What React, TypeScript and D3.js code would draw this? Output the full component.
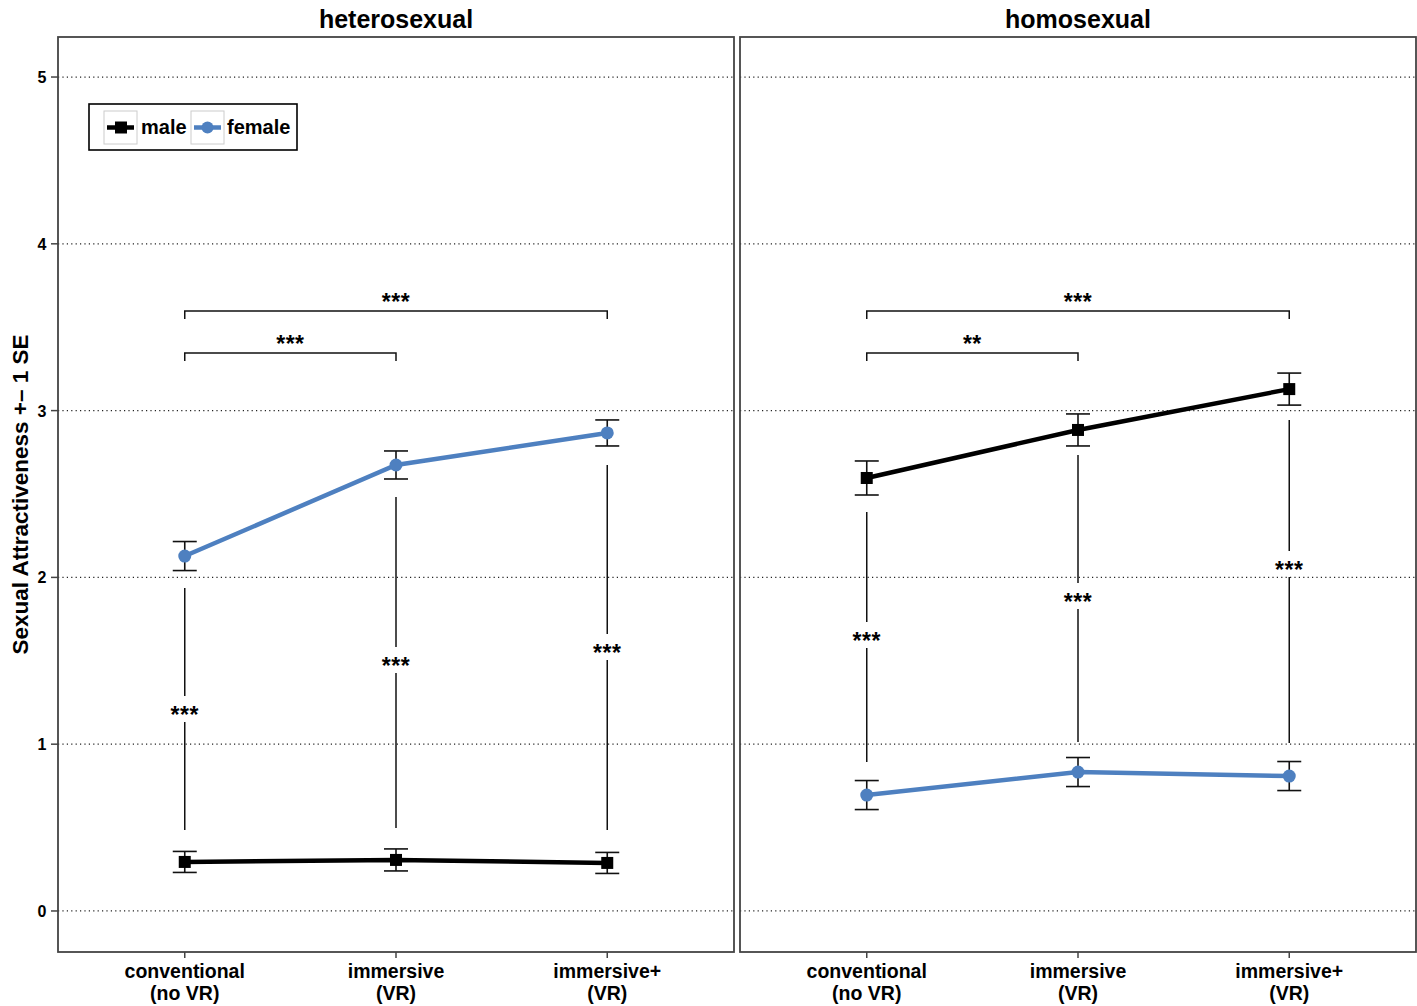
import React from 'react'
import * as d3 from 'd3'

// conditions on the x axis (two-line tick labels)
const conditions = ['conventional', 'immersive', 'immersive+']
const conditionSub = ['(no VR)', '(VR)', '(VR)']
const panelTitles = ['heterosexual', 'homosexual']
const yTicks = [0, 1, 2, 3, 4, 5]

// means and standard errors
const heteroMale = [0.294, 0.306, 0.288]
const heteroMaleSE = [0.063, 0.066, 0.063]
const heteroFemale = [2.128, 2.674, 2.866]
const heteroFemaleSE = [0.087, 0.084, 0.078]
const homoMale = [2.596, 2.884, 3.129]
const homoMaleSE = [0.102, 0.096, 0.096]
const homoFemale = [0.695, 0.833, 0.809]
const homoFemaleSE = [0.087, 0.087, 0.087]

// significance brackets between conditions
const heteroBrackets = [
  {from: 0, to: 2, y: 3.597, label: '***'},
  {from: 0, to: 1, y: 3.345, label: '***'},
]
const homoBrackets = [
  {from: 0, to: 2, y: 3.597, label: '***'},
  {from: 0, to: 1, y: 3.345, label: '**'},
]

// vertical male vs female comparisons (top, bottom, label position)
const heteroGender = [
  {top: 1.936, bottom: 0.486, at: 1.205, label: '***'},
  {top: 2.482, bottom: 0.498, at: 1.499, label: '***'},
  {top: 2.674, bottom: 0.486, at: 1.577, label: '***'},
]
const homoGender = [
  {top: 2.392, bottom: 0.893, at: 1.649, label: '***'},
  {top: 2.734, bottom: 1.013, at: 1.883, label: '***'},
  {top: 2.944, bottom: 1.007, at: 2.074, label: '***'},
]

const FEMALE = '#4e80c0'
const FONT = '"Liberation Sans", Arial, Helvetica, sans-serif'

const W = 1417
const H = 1006
const top = 37
const bottom = 952
const panelX = [[58, 734], [740, 1416]]

const y = d3.scaleLinear().domain([-0.246, 5.24]).range([bottom, top])

const Stars = ({x, y, label}) => (
  <text x={x} y={y} textAnchor="middle" fontSize={23} fontWeight="bold" letterSpacing={0.5}>{label}</text>
)

const Panel = ({idx, male, maleSE, female, femaleSE, brackets, gender, legend}) => {
  const [x0, x1] = panelX[idx]
  const x = d3.scalePoint().domain(conditions).range([x0, x1]).padding(0.6)
  const line = d3.line().x((d, i) => x(conditions[i])).y(d => y(d))
  const cap = 12

  const errBars = (vals, se) => vals.map((v, i) => {
    const cx = x(conditions[i])
    return (
      <g key={i} stroke="#111" strokeWidth={1.6}>
        <line x1={cx} x2={cx} y1={y(v - se[i])} y2={y(v + se[i])} />
        <line x1={cx - cap} x2={cx + cap} y1={y(v - se[i])} y2={y(v - se[i])} />
        <line x1={cx - cap} x2={cx + cap} y1={y(v + se[i])} y2={y(v + se[i])} />
      </g>
    )
  })

  return (
    <g>
      <text x={(x0 + x1) / 2} y={28} textAnchor="middle" fontSize={25} fontWeight="bold">{panelTitles[idx]}</text>
      {/* grid */}
      {yTicks.map(t => (
        <line key={t} x1={x0} x2={x1} y1={y(t)} y2={y(t)} stroke="#222" strokeWidth={1.2} strokeDasharray="1.2,3.2" />
      ))}
      {/* brackets */}
      {brackets.map((b, i) => {
        const bx0 = x(conditions[b.from]), bx1 = x(conditions[b.to])
        return (
          <g key={i}>
            <path d={`M${bx0},${y(b.y) + 8}V${y(b.y)}H${bx1}V${y(b.y) + 8}`} fill="none" stroke="#111" strokeWidth={1.5} />
            <Stars x={(bx0 + bx1) / 2} y={y(b.y) - 1} label={b.label} />
          </g>
        )
      })}
      {/* gender comparisons */}
      {gender.map((g, i) => {
        const cx = x(conditions[i])
        return (
          <g key={i}>
            <line x1={cx} x2={cx} y1={y(g.top)} y2={y(g.at) - 14} stroke="#111" strokeWidth={1.5} />
            <line x1={cx} x2={cx} y1={y(g.at) + 12} y2={y(g.bottom)} stroke="#111" strokeWidth={1.5} />
            <Stars x={cx} y={y(g.at) + 13} label={g.label} />
          </g>
        )
      })}
      {/* series */}
      {errBars(male, maleSE)}
      {errBars(female, femaleSE)}
      <path d={line(male)} fill="none" stroke="#000" strokeWidth={4.5} />
      <path d={line(female)} fill="none" stroke={FEMALE} strokeWidth={4.5} />
      {male.map((v, i) => (
        <rect key={i} x={x(conditions[i]) - 6} y={y(v) - 6} width={12} height={12} fill="#000" />
      ))}
      {female.map((v, i) => (
        <circle key={i} cx={x(conditions[i])} cy={y(v)} r={6.5} fill={FEMALE} />
      ))}
      {/* frame */}
      <rect x={x0} y={top} width={x1 - x0} height={bottom - top} fill="none" stroke="#444" strokeWidth={1.8} />
      {/* x axis */}
      {conditions.map((c, i) => (
        <g key={c} transform={`translate(${x(c)},0)`}>
          <line y1={bottom} y2={bottom + 6} stroke="#444" strokeWidth={1.5} />
          <text y={978} textAnchor="middle" fontSize={19.5} fontWeight="bold">{c}</text>
          <text y={1000} textAnchor="middle" fontSize={19.5} fontWeight="bold">{conditionSub[i]}</text>
        </g>
      ))}
      {legend && (
        <g>
          <rect x={89} y={104} width={208} height={46} fill="#fff" stroke="#000" strokeWidth={1.6} />
          <rect x={104} y={111} width={33} height={33} fill="none" stroke="#ccc" strokeWidth={1} />
          <line x1={107} x2={134} y1={127.5} y2={127.5} stroke="#000" strokeWidth={4.5} />
          <rect x={115} y={121.5} width={12} height={12} fill="#000" />
          <text x={141} y={134} fontSize={20} fontWeight="bold">male</text>
          <rect x={191} y={111} width={33} height={33} fill="none" stroke="#ccc" strokeWidth={1} />
          <line x1={194} x2={221} y1={127.5} y2={127.5} stroke={FEMALE} strokeWidth={4.5} />
          <circle cx={207.5} cy={127.5} r={6} fill={FEMALE} />
          <text x={227} y={134} fontSize={20} fontWeight="bold">female</text>
        </g>
      )}
    </g>
  )
}

export default function App() {
  return (
    <svg width={W} height={H} style={{position: 'absolute', left: 0, top: 0, background: '#fff'}} fontFamily={FONT}>
      <rect width={W} height={H} fill="#fff" />
      {/* y axis */}
      {yTicks.map(t => (
        <g key={t}>
          <line x1={51} x2={58} y1={y(t)} y2={y(t)} stroke="#444" strokeWidth={1.5} />
          <text x={42} y={y(t) + 6} textAnchor="middle" fontSize={16} fontWeight="bold">{t}</text>
        </g>
      ))}
      <text transform={`translate(28,${(top + bottom) / 2}) rotate(-90)`} textAnchor="middle" fontSize={22.5} fontWeight="bold">
        Sexual Attractiveness +– 1 SE
      </text>
      <Panel idx={0} male={heteroMale} maleSE={heteroMaleSE} female={heteroFemale} femaleSE={heteroFemaleSE}
        brackets={heteroBrackets} gender={heteroGender} legend />
      <Panel idx={1} male={homoMale} maleSE={homoMaleSE} female={homoFemale} femaleSE={homoFemaleSE}
        brackets={homoBrackets} gender={homoGender} legend={false} />
    </svg>
  )
}
